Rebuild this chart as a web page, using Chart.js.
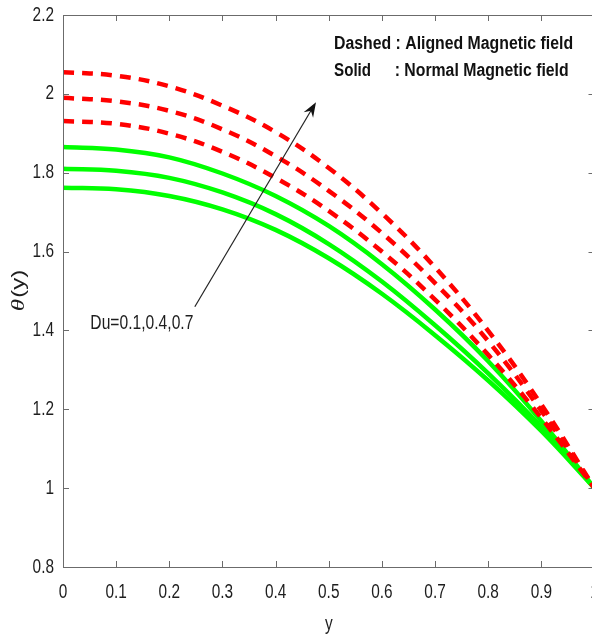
<!DOCTYPE html>
<html><head><meta charset="utf-8">
<style>
html,body{margin:0;padding:0;overflow:hidden;background:#fff;width:592px;height:637px}
#wrap{position:relative;width:600px;height:637px}
</style>
<script src="https://cdn.jsdelivr.net/npm/chart.js@4.4.0/dist/chart.umd.min.js"></script>
</head><body><div id="wrap"><canvas id="c" width="600" height="637"></canvas></div>
<script>
// ---- data ----
const yPos = [0, 0.1, 0.2, 0.3, 0.4, 0.5, 0.6, 0.7, 0.8, 0.9, 1.0];
// Dashed : Aligned magnetic field (Du = 0.1, 0.4, 0.7)
const alignedDu01 = [1.931, 1.924, 1.899, 1.853, 1.787, 1.703, 1.600, 1.478, 1.338, 1.178, 1.0];
const alignedDu04 = [1.990, 1.981, 1.957, 1.910, 1.842, 1.754, 1.647, 1.520, 1.373, 1.196, 1.0];
const alignedDu07 = [2.055, 2.046, 2.019, 1.970, 1.903, 1.812, 1.697, 1.560, 1.399, 1.212, 1.0];
// Solid : Normal magnetic field (Du = 0.1, 0.4, 0.7)
const normalDu01 = [1.762, 1.758, 1.741, 1.707, 1.655, 1.583, 1.493, 1.388, 1.273, 1.145, 1.0];
const normalDu04 = [1.810, 1.805, 1.787, 1.750, 1.695, 1.619, 1.524, 1.413, 1.291, 1.155, 1.0];
const normalDu07 = [1.865, 1.859, 1.839, 1.798, 1.741, 1.665, 1.568, 1.453, 1.322, 1.170, 1.0];

const xTicks = [0, 0.1, 0.2, 0.3, 0.4, 0.5, 0.6, 0.7, 0.8, 0.9, 1];
const xTickLabels = ['0', '0.1', '0.2', '0.3', '0.4', '0.5', '0.6', '0.7', '0.8', '0.9', '1'];
const yTicks = [0.8, 1, 1.2, 1.4, 1.6, 1.8, 2, 2.2];
const yTickLabels = ['0.8', '1', '1.2', '1.4', '1.6', '1.8', '2', '2.2'];

const legendLines = ['Dashed : Aligned Magnetic field', 'Solid', ': Normal Magnetic field'];
const annotationText = 'Du=0.1,0.4,0.7';

// ---- styling ----
const SANS = "'Liberation Sans', Arial, sans-serif";
const AXIS = '#6b6b6b';
const TXT = '#1e1e1e';
const SX = 0.77; // horizontal condensing of axis text

const pts = arr => arr.map((v, i) => ({x: yPos[i], y: v}));
const dashed = (data) => ({data: pts(data), borderColor: '#ff0000', borderWidth: 4.5, borderDash: [11, 8],
  borderCapStyle: 'butt', pointRadius: 0, tension: 0.4, fill: false, order: 0});
const solid = (data) => ({data: pts(data), borderColor: '#00ff00', borderWidth: 4.5,
  pointRadius: 0, tension: 0.4, fill: false, order: 1});

// condense the axis texts that Chart.js draws (scaled about each anchor point)
const condense = {
  id: 'condense',
  beforeDraw(chart) {
    const ctx = chart.ctx;
    if (!ctx._origFill) ctx._origFill = ctx.fillText;
    ctx.fillText = function (t, x, y) {
      this.save(); this.translate(x, y); this.scale(SX, 1);
      this._origFill.call(this, t, 0, 0); this.restore();
    };
  },
  beforeDatasetsDraw(chart) {
    const ctx = chart.ctx;
    if (ctx._origFill) ctx.fillText = ctx._origFill;
  }
};

const decor = {
  id: 'decor',
  afterDraw(chart) {
    const ctx = chart.ctx, xs = chart.scales.x, ys = chart.scales.y, a = chart.chartArea;
    if (ctx._origFill) ctx.fillText = ctx._origFill;
    ctx.save();
    // box
    ctx.strokeStyle = AXIS; ctx.lineWidth = 1;
    ctx.strokeRect(Math.round(a.left) + 0.5, Math.round(a.top) + 0.5, Math.round(a.right - a.left), Math.round(a.bottom - a.top));
    // inward ticks
    const TL = 6;
    ctx.beginPath();
    xTicks.forEach(v => {
      const px = Math.round(xs.getPixelForValue(v)) + 0.5;
      ctx.moveTo(px, a.bottom); ctx.lineTo(px, a.bottom - TL);
      ctx.moveTo(px, a.top); ctx.lineTo(px, a.top + TL);
    });
    yTicks.forEach(v => {
      const py = Math.round(ys.getPixelForValue(v)) + 0.5;
      ctx.moveTo(a.left, py); ctx.lineTo(a.left + TL, py);
      ctx.moveTo(a.right, py); ctx.lineTo(a.right - TL, py);
    });
    ctx.stroke();

    // arrow
    const x0 = xs.getPixelForValue(0.248), y0 = ys.getPixelForValue(1.460);
    const x1 = xs.getPixelForValue(0.476), y1 = ys.getPixelForValue(1.979);
    const ang = Math.atan2(y1 - y0, x1 - x0);
    ctx.strokeStyle = '#222'; ctx.lineWidth = 1.2;
    ctx.beginPath(); ctx.moveTo(x0, y0);
    ctx.lineTo(x1 - 8 * Math.cos(ang), y1 - 8 * Math.sin(ang)); ctx.stroke();
    const L = 15, W = 5.5, B = 10;
    const ux = Math.cos(ang), uy = Math.sin(ang), nx = -uy, ny = ux;
    ctx.fillStyle = '#111';
    ctx.beginPath();
    ctx.moveTo(x1, y1);
    ctx.lineTo(x1 - L * ux + W * nx, y1 - L * uy + W * ny);
    ctx.lineTo(x1 - B * ux, y1 - B * uy);
    ctx.lineTo(x1 - L * ux - W * nx, y1 - L * uy - W * ny);
    ctx.closePath(); ctx.fill();

    // helper: horizontally condensed text fitted to a width
    const drawText = (txt, font, x, y, targetW, color) => {
      ctx.font = font; ctx.fillStyle = color || TXT;
      ctx.textBaseline = 'middle'; ctx.textAlign = 'left';
      const w = ctx.measureText(txt).width;
      ctx.save(); ctx.translate(x, y); ctx.scale(targetW / w, 1);
      ctx.fillText(txt, 0, 0); ctx.restore();
    };
    // annotation
    drawText(annotationText, "20px " + SANS,
      xs.getPixelForValue(0.0515), ys.getPixelForValue(1.417), 103);
    // legend text
    const lx = xs.getPixelForValue(0.510);
    drawText(legendLines[0], "bold 18px " + SANS, lx, ys.getPixelForValue(2.126), 239, '#111');
    drawText(legendLines[1], "bold 18px " + SANS, lx, ys.getPixelForValue(2.058), 37, '#111');
    drawText(legendLines[2], "bold 18px " + SANS, xs.getPixelForValue(0.624), ys.getPixelForValue(2.058), 174, '#111');

    // y-axis title  θ(y)
    ctx.save();
    ctx.translate(19, (a.top + a.bottom) / 2);
    ctx.rotate(-Math.PI / 2);
    ctx.scale(1, 0.78);
    ctx.fillStyle = TXT; ctx.textBaseline = 'middle'; ctx.textAlign = 'left';
    const f1 = "italic 25px 'Liberation Serif', 'Times New Roman', serif";
    const f2 = "24px " + SANS;
    ctx.font = f1; const w1 = ctx.measureText('θ').width;
    ctx.font = f2; const w2 = ctx.measureText('(y)').width;
    const start = -(w1 + w2) / 2;
    ctx.font = f1; ctx.fillText('θ', start, 0);
    ctx.font = f2; ctx.fillText('(y)', start + w1 + 1, 0);
    ctx.restore();
    ctx.restore();
  }
};

new Chart(document.getElementById('c'), {
  type: 'line',
  data: {
    datasets: [
      dashed(alignedDu01), dashed(alignedDu04), dashed(alignedDu07),
      solid(normalDu01), solid(normalDu04), solid(normalDu07)
    ]
  },
  options: {
    responsive: false, devicePixelRatio: 1, animation: false,
    layout: {padding: {top: 15, right: 5.5, left: 0, bottom: 0}},
    plugins: {legend: {display: false}, tooltip: {enabled: false}},
    scales: {
      x: {
        type: 'linear', min: 0, max: 1,
        grid: {display: false, drawTicks: false, tickLength: 0}, border: {display: false},
        afterBuildTicks: s => { s.ticks = xTicks.map(v => ({value: v})); },
        ticks: {autoSkip: false, maxRotation: 0, padding: 13, color: TXT,
          font: {family: SANS, size: 20},
          callback: (v, i) => xTickLabels[i]},
        title: {display: true, text: 'y', color: TXT, font: {family: SANS, size: 20}, padding: {top: 0, bottom: 1}},
        afterFit: s => { s.height = 70; s.paddingLeft = 0; s.paddingRight = 0; }
      },
      y: {
        type: 'linear', min: 0.8, max: 2.2,
        grid: {display: false, drawTicks: false, tickLength: 0}, border: {display: false},
        afterBuildTicks: s => { s.ticks = yTicks.map(v => ({value: v})); },
        ticks: {autoSkip: false, padding: 9, color: TXT,
          font: {family: SANS, size: 20},
          callback: (v, i) => yTickLabels[i]},
        afterFit: s => { s.width = 63; s.paddingTop = 0; s.paddingBottom = 0; }
      }
    }
  },
  plugins: [condense, decor]
});
</script>
</body></html>
